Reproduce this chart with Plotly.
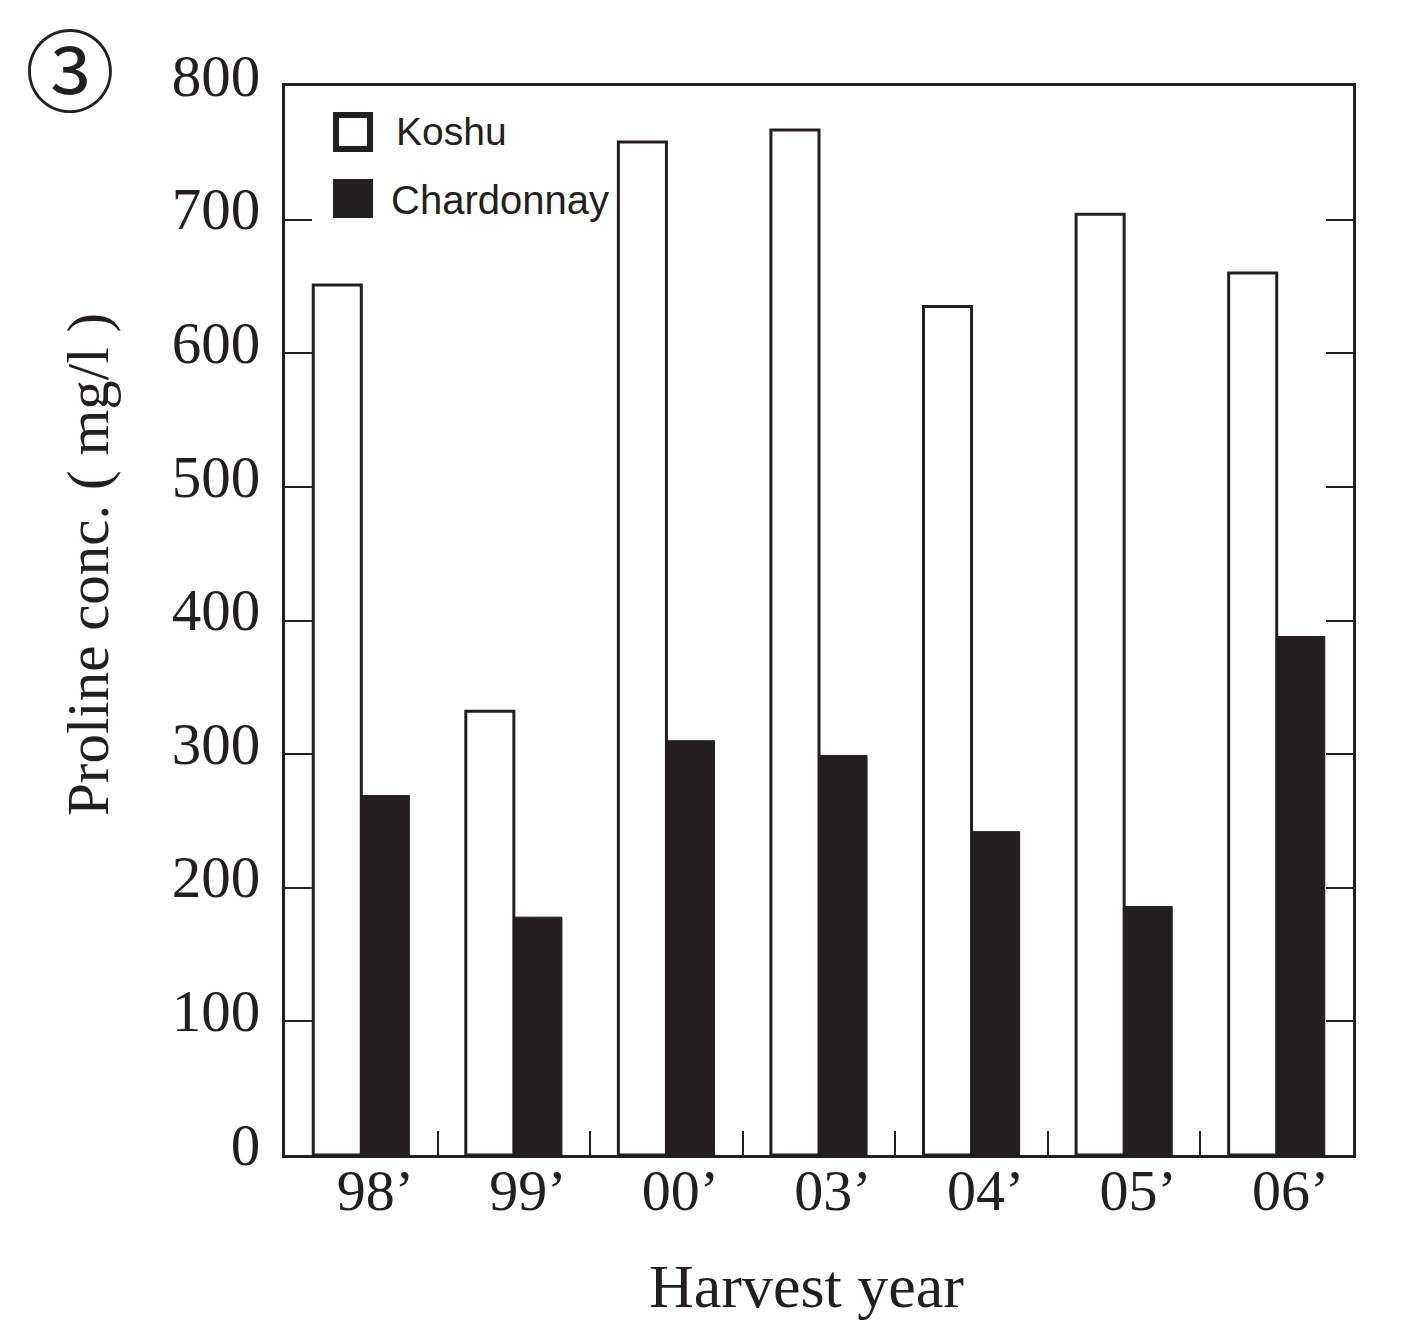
import plotly.graph_objects as go

years = ["98’", "99’", "00’", "03’", "04’", "05’", "06’"]
koshu = [651, 332, 758, 767, 635, 704, 660]
chardonnay = [269, 178, 310, 299, 242, 186, 388]
y_ticks = [0, 100, 200, 300, 400, 500, 600, 700, 800]

INK = "#231f20"
SERIF = "Liberation Serif, Times New Roman, serif"
SANS = "Liberation Sans, Arial, sans-serif"

fig = go.Figure()
fig.add_trace(go.Bar(x=years, y=koshu, name="Koshu",
                     marker=dict(color="white", line=dict(color=INK, width=3)),
                     showlegend=False))
fig.add_trace(go.Bar(x=years, y=chardonnay, name="Chardonnay",
                     marker=dict(color=INK, line=dict(color=INK, width=1)),
                     showlegend=False))

W, H = 1404, 1324
L, R, T, B = 285, 51, 86, 169
pw, ph = W - L - R, H - T - B

def px(xp):
    return (xp - L) / pw

def py(yp):
    return 1 - (yp - T) / ph

fig.update_layout(
    width=W, height=H,
    margin=dict(l=L, r=R, t=T, b=B, pad=0),
    paper_bgcolor="white", plot_bgcolor="white",
    barmode="group", bargap=0.37, bargroupgap=0,
    font=dict(family=SERIF, color=INK),
)
fig.update_xaxes(
    type="category", showgrid=False, zeroline=False,
    showline=True, linecolor=INK, linewidth=3, mirror=True,
    ticks="inside", tickson="boundaries", ticklen=24, tickwidth=2, tickcolor=INK,
    tickfont=dict(family=SERIF, size=58, color=INK),
    ticklabelshift=14, ticklabelstandoff=-18,
)
fig.update_yaxes(
    range=[0, 800], tickvals=y_ticks, showgrid=False, zeroline=False,
    showline=True, linecolor=INK, linewidth=3, mirror="ticks",
    ticks="inside", ticklen=27, tickwidth=2, tickcolor=INK,
    tickfont=dict(family=SERIF, size=59, color=INK),
    ticklabelstandoff=10, ticklabelshift=-11,
)

# axis titles
fig.add_annotation(text="Proline conc. ( mg/l )", xref="paper", yref="paper",
                   x=px(88), y=py(565), showarrow=False, textangle=-90,
                   font=dict(family=SERIF, size=59, color=INK),
                   xanchor="center", yanchor="middle")
fig.add_annotation(text="Harvest year", xref="paper", yref="paper",
                   x=px(806), y=py(1286), showarrow=False,
                   font=dict(family=SERIF, size=62, color=INK),
                   xanchor="center", yanchor="middle")
# panel label
fig.add_annotation(text="③", xref="paper", yref="paper",
                   x=px(70), y=py(66), showarrow=False,
                   font=dict(family="Noto Sans CJK JP", size=90, color=INK),
                   xanchor="center", yanchor="middle")

# legend drawn manually
fig.add_shape(type="rect", xref="paper", yref="paper",
              x0=px(336), x1=px(370), y0=py(115), y1=py(149),
              line=dict(color=INK, width=6), fillcolor="white")
fig.add_shape(type="rect", xref="paper", yref="paper",
              x0=px(333), x1=px(373), y0=py(179), y1=py(218),
              line=dict(color=INK, width=0), fillcolor=INK)
fig.add_annotation(text="Koshu", xref="paper", yref="paper",
                   x=px(394), y=py(131), showarrow=False,
                   font=dict(family=SANS, size=39, color=INK),
                   xanchor="left", yanchor="middle")
fig.add_annotation(text="Chardonnay", xref="paper", yref="paper",
                   x=px(389), y=py(200), showarrow=False,
                   font=dict(family=SANS, size=40, color=INK),
                   xanchor="left", yanchor="middle")

fig.write_html("out.html")
